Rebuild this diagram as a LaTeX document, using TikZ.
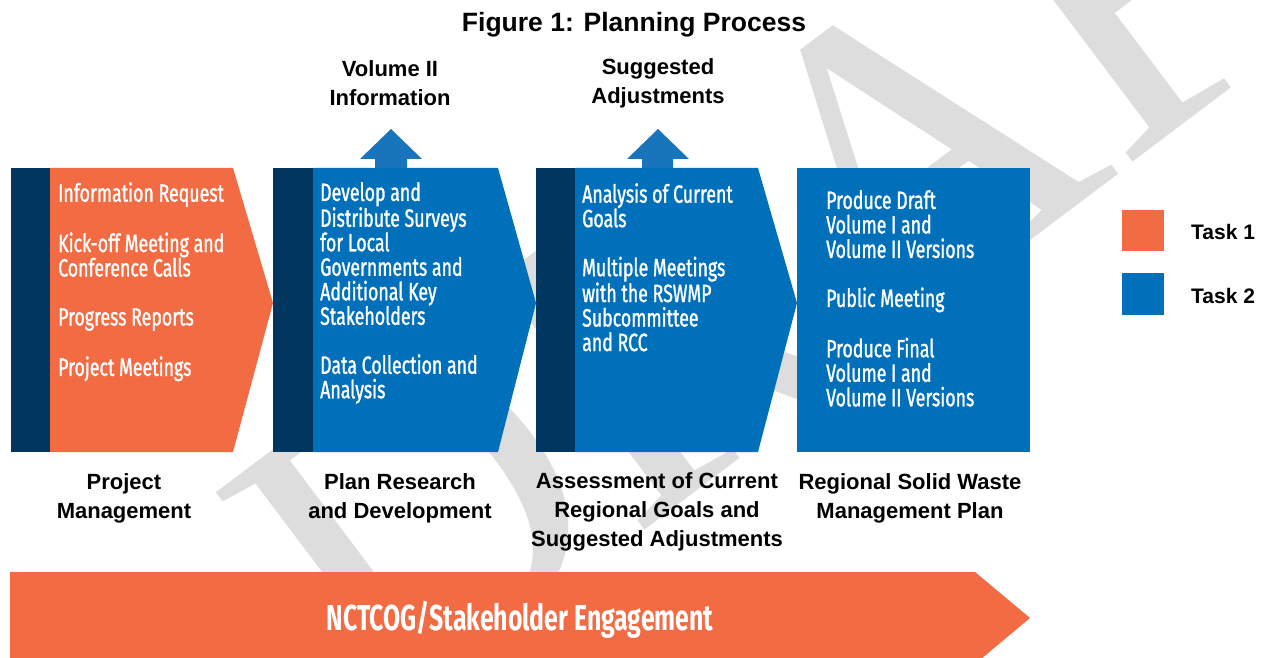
\documentclass[tikz,border=0pt]{standalone}
\usepackage{fontspec}
\setmainfont{Liberation Sans}
\newfontfamily\condfont[FakeStretch=0.71,FakeBold=1.2]{Fira Sans}
\newfontfamily\engfont[FakeStretch=0.69]{Fira Sans}
\newfontfamily\wmfont{Liberation Serif}
\definecolor{orng}{HTML}{F26B43}
\definecolor{blu}{HTML}{0070BA}
\definecolor{navy}{HTML}{003660}
\definecolor{arblue}{HTML}{1874BB}
\definecolor{wmgray}{HTML}{DDDDDD}
\tikzset{
  boxtext/.style={text=white, anchor=north west, inner sep=0pt, align=left,
    font=\condfont\fontsize{25}{24.5}\selectfont},
  lab/.style={align=center, inner sep=0pt, text=black,
    font=\bfseries\fontsize{22}{29}\selectfont},
  upar/.style={fill=arblue},
}
\begin{document}
\begin{tikzpicture}[x=1pt,y=-1pt]
\useasboundingbox (0,0) rectangle (1270,658);
\clip (0,0) rectangle (1270,658);
% watermark
\node[font=\wmfont\fontsize{440}{440}\selectfont, text=wmgray, rotate=37,
  anchor=base west, inner sep=0pt] (wm) at (379,731) {DRAFT};
% title
\node[font=\bfseries\fontsize{26.5}{30}\selectfont, inner sep=0pt] (title) at (634,25) {Figure 1: Planning Process};
% box 1
\fill[navy] (11,168) rectangle (50,452);
\fill[orng] (50,168) -- (233,168) -- (273,303) -- (233,452) -- (50,452) -- cycle;
% box 2
\fill[navy] (273,168) rectangle (313,452);
\fill[blu] (313,168) -- (498,168) -- (536,303) -- (498,452) -- (313,452) -- cycle;
% box 3
\fill[navy] (536,168) rectangle (575,452);
\fill[blu] (575,168) -- (758,168) -- (797,303) -- (758,452) -- (575,452) -- cycle;
% box 4
\fill[blu] (797,168) rectangle (1030,452);
% up arrows
\fill[upar] (375,168) -- (375,159) -- (360,159) -- (391,129) -- (422,159) -- (407,159) -- (407,168) -- cycle;
\fill[upar] (642,168) -- (642,159) -- (627,159) -- (658,129) -- (689,159) -- (673,159) -- (673,168) -- cycle;
% top labels
\node[lab] (vol) at (390,83) {Volume II\\Information};
\node[lab] (sug) at (658,83) {Suggested\\Adjustments};
% box texts
\node[boxtext] (t1) at (58,182) {Information Request\\[24.5pt]Kick-off Meeting and\\Conference Calls\\[24.5pt]Progress Reports\\[24.5pt]Project Meetings};
\node[boxtext] (t2) at (320,182) {Develop and\\Distribute Surveys\\for Local\\Governments and\\Additional Key\\Stakeholders\\[24.5pt]Data Collection and\\Analysis};
\node[boxtext] (t3) at (582,183) {Analysis of Current\\Goals\\[24.5pt]Multiple Meetings\\with the RSWMP\\Subcommittee\\and RCC};
\node[boxtext] (t4) at (826,190) {Produce Draft\\Volume I and\\Volume II Versions\\[24.5pt]Public Meeting\\[24.5pt]Produce Final\\Volume I and\\Volume II Versions};
% bottom labels
\node[lab] (l1) at (124,498) {Project\\Management};
\node[lab] (l2) at (400,498) {Plan Research\\and Development};
\node[lab] (l3) at (657,512) {Assessment of Current\\Regional Goals and\\Suggested Adjustments};
\node[lab] (l4) at (910,498) {Regional Solid Waste\\Management Plan};
% legend
\fill[orng] (1122,210) rectangle (1164,251);
\fill[blu] (1122,273) rectangle (1164,315);
\node[lab, anchor=west, font=\bfseries\fontsize{21}{29}\selectfont] (k1) at (1191,232) {Task 1};
\node[lab, anchor=west, font=\bfseries\fontsize{21}{29}\selectfont] (k2) at (1191,296) {Task 2};
% engagement arrow
\fill[orng] (10,572) -- (975,572) -- (1030,618) -- (975,664) -- (10,664) -- cycle;
\node[text=white, inner sep=0pt, font=\engfont\bfseries\fontsize{36}{40}\selectfont] (eng) at (520,620) {NCTCOG/Stakeholder Engagement};
\end{tikzpicture}
\end{document}
